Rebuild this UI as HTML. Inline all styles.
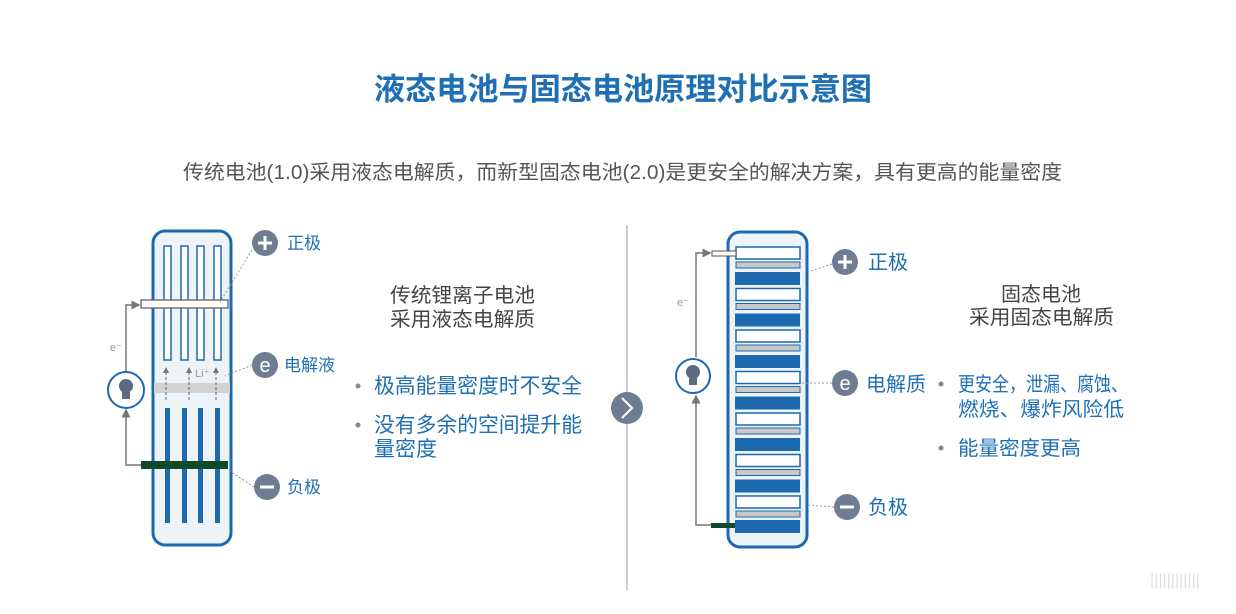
<!DOCTYPE html>
<html><head><meta charset="utf-8"><style>
body{margin:0;width:1236px;height:614px;background:#fff;overflow:hidden;font-family:"Liberation Sans","Noto Sans CJK SC",sans-serif}
svg{position:absolute;left:0;top:0}
</style></head><body>
<svg width="1236" height="614" xmlns="http://www.w3.org/2000/svg" font-family="Liberation Sans, Noto Sans CJK SC, sans-serif">
<defs><marker id="ar" markerWidth="6" markerHeight="6" refX="5" refY="3" orient="auto"><path d="M0,0L6,3L0,6z" fill="#777"/></marker></defs>
<rect width="1236" height="614" fill="#fff"/>
<text x="374" y="100" font-size="31" fill="#1f6fb4" font-weight="bold" textLength="498" lengthAdjust="spacingAndGlyphs">液态电池与固态电池原理对比示意图</text>
<text x="183" y="179" font-size="20" fill="#555" textLength="879" lengthAdjust="spacingAndGlyphs">传统电池(1.0)采用液态电解质，而新型固态电池(2.0)是更安全的解决方案，具有更高的能量密度</text>
<line x1="627" y1="225" x2="627" y2="590" stroke="#bbb" stroke-width="1.5"/>
<circle cx="627" cy="408" r="16" fill="#6e7d92"/>
<path d="M622,398 L632,408 L622,418" fill="none" stroke="#fff" stroke-width="2"/>

<!-- left battery -->
<rect x="153" y="231" width="78" height="314" rx="12" fill="#eef3f8" stroke="#1c69b0" stroke-width="3"/>
<g fill="#fff" stroke="#1c69b0" stroke-width="1.5">
<rect x="164" y="246" width="7" height="114"/><rect x="181" y="246" width="7" height="114"/><rect x="197" y="246" width="7" height="114"/><rect x="214" y="246" width="7" height="114"/>
</g>
<rect x="141" y="300" width="87" height="8" fill="#fff" stroke="#555" stroke-width="1.2"/>
<rect x="154" y="383" width="76" height="10" fill="#d2d2d2"/>
<g fill="#1c69b0"><rect x="165" y="408" width="5" height="115"/><rect x="182" y="408" width="5" height="115"/><rect x="198" y="408" width="5" height="115"/><rect x="215" y="408" width="5" height="115"/></g>
<rect x="141" y="461" width="87" height="8" fill="#0d4a2a"/>
<g stroke="#666" stroke-width="1" stroke-dasharray="3,2" marker-end="url(#ar)"><line x1="166" y1="400" x2="166" y2="368"/><line x1="189" y1="400" x2="189" y2="368"/><line x1="216" y1="400" x2="216" y2="368"/></g>
<text x="195" y="377" font-size="11" fill="#999">Li⁺</text>
<path d="M126,372 V305 H139" fill="none" stroke="#777" stroke-width="1.5" marker-end="url(#ar)"/>
<path d="M141,465 H126 V410" fill="none" stroke="#777" stroke-width="1.5" marker-end="url(#ar)"/>
<text x="110" y="351" font-size="11" fill="#999">e⁻</text>
<circle cx="126" cy="390" r="18" fill="#fff" stroke="#1c69b0" stroke-width="2"/>
<circle cx="126" cy="386" r="7" fill="#5a6a80"/><rect x="122" y="392" width="8" height="7" fill="#5a6a80"/>
<g stroke="#999" stroke-dasharray="2,2"><line x1="252" y1="250" x2="220" y2="302"/><line x1="252" y1="365" x2="225" y2="376"/><line x1="254" y1="487" x2="228" y2="470"/></g>
<g fill="#6e7d92"><circle cx="265" cy="243" r="13"/><circle cx="265" cy="365" r="13"/><circle cx="267" cy="487" r="13"/></g>
<g stroke="#fff" stroke-width="3"><line x1="258" y1="243" x2="272" y2="243"/><line x1="265" y1="236" x2="265" y2="250"/><line x1="260" y1="487" x2="274" y2="487"/></g>
<text x="265" y="372" font-size="20" fill="#fff" text-anchor="middle">e</text>
<g font-size="17" fill="#1f6fb4"><text x="287" y="249">正极</text><text x="284" y="371">电解液</text><text x="287" y="493">负极</text></g>
<g font-size="20" fill="#444"><text x="390" y="302" textLength="145" lengthAdjust="spacingAndGlyphs">传统锂离子电池</text><text x="390" y="326" textLength="145" lengthAdjust="spacingAndGlyphs">采用液态电解质</text></g>
<g font-size="21" fill="#1f6fb4"><text x="374" y="393" textLength="208" lengthAdjust="spacingAndGlyphs">极高能量密度时不安全</text><text x="374" y="432" textLength="208" lengthAdjust="spacingAndGlyphs">没有多余的空间提升能</text><text x="374" y="456">量密度</text></g>
<g fill="#888"><circle cx="358" cy="386" r="2.5"/><circle cx="358" cy="425" r="2.5"/></g>

<!-- right battery -->
<rect x="728" y="232" width="79" height="315" rx="12" fill="#eef3f8" stroke="#1c69b0" stroke-width="3"/>
<g>
<rect x="736" y="247" width="64" height="12" fill="#fff" stroke="#1c69b0" stroke-width="1.5"/><rect x="736" y="262" width="64" height="6" fill="#c8c8c8" stroke="#1c69b0" stroke-width="1"/><rect x="735" y="272" width="65" height="13" fill="#1c69b0"/>
<rect x="736" y="288.5" width="64" height="12" fill="#fff" stroke="#1c69b0" stroke-width="1.5"/><rect x="736" y="303.5" width="64" height="6" fill="#c8c8c8" stroke="#1c69b0" stroke-width="1"/><rect x="735" y="313.5" width="65" height="13" fill="#1c69b0"/>
<rect x="736" y="330" width="64" height="12" fill="#fff" stroke="#1c69b0" stroke-width="1.5"/><rect x="736" y="345" width="64" height="6" fill="#c8c8c8" stroke="#1c69b0" stroke-width="1"/><rect x="735" y="355" width="65" height="13" fill="#1c69b0"/>
<rect x="736" y="371.5" width="64" height="12" fill="#fff" stroke="#1c69b0" stroke-width="1.5"/><rect x="736" y="386.5" width="64" height="6" fill="#c8c8c8" stroke="#1c69b0" stroke-width="1"/><rect x="735" y="396.5" width="65" height="13" fill="#1c69b0"/>
<rect x="736" y="413" width="64" height="12" fill="#fff" stroke="#1c69b0" stroke-width="1.5"/><rect x="736" y="428" width="64" height="6" fill="#c8c8c8" stroke="#1c69b0" stroke-width="1"/><rect x="735" y="438" width="65" height="13" fill="#1c69b0"/>
<rect x="736" y="454.5" width="64" height="12" fill="#fff" stroke="#1c69b0" stroke-width="1.5"/><rect x="736" y="469.5" width="64" height="6" fill="#c8c8c8" stroke="#1c69b0" stroke-width="1"/><rect x="735" y="479.5" width="65" height="13" fill="#1c69b0"/>
<rect x="736" y="496" width="64" height="12" fill="#fff" stroke="#1c69b0" stroke-width="1.5"/><rect x="736" y="511" width="64" height="6" fill="#c8c8c8" stroke="#1c69b0" stroke-width="1"/><rect x="735" y="520" width="65" height="13" fill="#1c69b0"/>
</g>
<rect x="712" y="251" width="24" height="5" fill="#fff" stroke="#555"/>
<rect x="711" y="523" width="24" height="5" fill="#0d4a2a"/>
<path d="M696,357 V253 H710" fill="none" stroke="#777" stroke-width="1.5" marker-end="url(#ar)"/>
<path d="M711,525 H696 V396" fill="none" stroke="#777" stroke-width="1.5" marker-end="url(#ar)"/>
<text x="677" y="306" font-size="11" fill="#999">e⁻</text>
<circle cx="693" cy="376" r="17" fill="#fff" stroke="#1c69b0" stroke-width="2"/>
<circle cx="693" cy="372" r="7" fill="#5a6a80"/><rect x="689" y="378" width="8" height="7" fill="#5a6a80"/>
<g stroke="#999" stroke-dasharray="2,2"><line x1="832" y1="264" x2="808" y2="272"/><line x1="832" y1="383" x2="800" y2="383"/><line x1="834" y1="507" x2="808" y2="505"/></g>
<g fill="#6e7d92"><circle cx="845" cy="262" r="13"/><circle cx="845" cy="383" r="13"/><circle cx="847" cy="507" r="13"/></g>
<g stroke="#fff" stroke-width="3"><line x1="838" y1="262" x2="852" y2="262"/><line x1="845" y1="255" x2="845" y2="269"/><line x1="840" y1="507" x2="854" y2="507"/></g>
<text x="845" y="390" font-size="20" fill="#fff" text-anchor="middle">e</text>
<g font-size="20" fill="#1f6fb4"><text x="868" y="269">正极</text><text x="866" y="391">电解质</text><text x="868" y="514">负极</text></g>
<g font-size="20" fill="#444"><text x="1001" y="301" textLength="80" lengthAdjust="spacingAndGlyphs">固态电池</text><text x="969" y="324" textLength="145" lengthAdjust="spacingAndGlyphs">采用固态电解质</text></g>
<g font-size="20" fill="#1f6fb4"><text x="958" y="391" textLength="170" lengthAdjust="spacingAndGlyphs">更安全，泄漏、腐蚀、</text><text x="958" y="416" textLength="166" lengthAdjust="spacingAndGlyphs">燃烧、爆炸风险低</text><text x="958" y="455" textLength="123" lengthAdjust="spacingAndGlyphs">能量密度更高</text></g>
<g fill="#888"><circle cx="941" cy="384" r="2.5"/><circle cx="941" cy="448" r="2.5"/></g>
<text x="1150" y="585" font-size="16" fill="#ddd">||||||||||||</text>
</svg>
</body></html>
